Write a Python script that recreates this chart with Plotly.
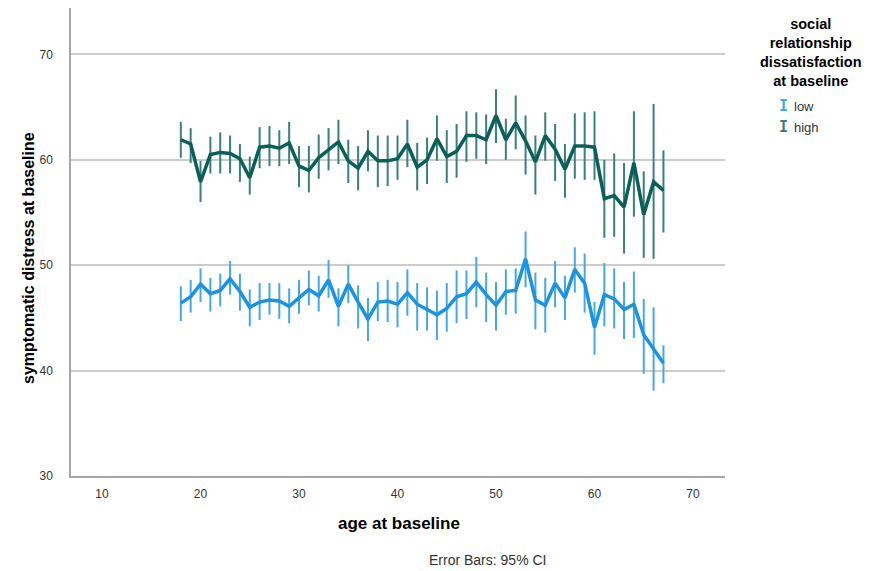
import plotly.graph_objects as go

# Age at baseline (years)
ages = list(range(18, 68))

# Mean symptomatic distress, low social relationship dissatisfaction
low_mean = [46.4, 47.0, 48.2, 47.3, 47.6, 48.7, 47.5, 46.0, 46.5, 46.7,
            46.6, 46.1, 46.9, 47.7, 47.1, 48.6, 46.1, 48.2, 46.5, 44.9,
            46.5, 46.6, 46.3, 47.4, 46.3, 45.8, 45.3, 45.9, 47.0, 47.3,
            48.4, 47.2, 46.2, 47.5, 47.6, 50.6, 46.7, 46.2, 48.3, 46.9,
            49.6, 48.3, 44.1, 47.2, 46.8, 45.8, 46.3, 43.4, 42.1, 40.7]
low_upper = [48.0, 48.6, 49.7, 48.8, 49.2, 50.4, 49.2, 47.7, 48.3, 48.3,
             48.3, 47.8, 48.6, 49.5, 49.0, 50.5, 47.8, 50.0, 48.1, 46.9,
             48.4, 48.6, 48.4, 49.6, 48.3, 47.9, 47.6, 48.3, 49.5, 49.5,
             50.8, 49.3, 48.4, 49.6, 49.7, 53.2, 49.3, 48.8, 50.4, 49.0,
             51.7, 51.1, 46.5, 50.2, 49.7, 48.4, 49.4, 46.8, 46.0, 42.4]
low_lower = [44.7, 45.5, 46.5, 45.6, 46.1, 47.2, 45.7, 44.2, 44.8, 45.3,
             44.9, 44.5, 45.4, 46.2, 45.6, 46.9, 44.2, 46.4, 44.0, 42.8,
             44.7, 44.6, 44.1, 45.2, 43.8, 43.8, 42.9, 43.7, 44.5, 44.9,
             46.0, 44.6, 43.8, 45.3, 45.4, 47.9, 43.9, 43.6, 46.0, 44.8,
             47.4, 45.5, 41.5, 44.2, 44.0, 43.0, 43.1, 39.7, 38.1, 38.8]

# Mean symptomatic distress, high social relationship dissatisfaction
high_mean = [61.9, 61.5, 57.9, 60.5, 60.7, 60.6, 60.1, 58.3, 61.2, 61.3,
             61.1, 61.6, 59.4, 59.0, 60.2, 61.0, 61.7, 59.9, 59.2, 60.8,
             59.9, 59.9, 60.1, 61.5, 59.3, 60.0, 62.0, 60.3, 60.8, 62.3,
             62.3, 61.9, 64.2, 61.9, 63.5, 61.8, 59.8, 62.3, 61.0, 59.1,
             61.3, 61.3, 61.2, 56.3, 56.6, 55.5, 59.7, 54.8, 57.9, 57.1]
high_upper = [63.6, 63.0, 59.9, 62.2, 62.6, 62.3, 61.5, 60.3, 63.1, 63.2,
              62.8, 63.6, 61.3, 61.3, 62.4, 63.0, 63.8, 61.9, 61.3, 62.8,
              62.3, 62.3, 62.3, 63.8, 61.6, 62.1, 64.2, 62.8, 63.4, 64.6,
              64.5, 64.3, 66.7, 63.9, 66.1, 64.2, 62.3, 64.5, 63.4, 61.5,
              64.4, 64.5, 64.6, 60.0, 60.6, 59.7, 64.6, 58.9, 65.3, 60.9]
high_lower = [60.2, 59.7, 56.0, 58.7, 58.7, 58.7, 57.9, 56.7, 59.2, 59.4,
              59.4, 59.6, 57.4, 56.9, 58.2, 59.0, 59.6, 57.8, 57.1, 58.9,
              57.4, 57.5, 58.1, 59.3, 57.1, 57.7, 59.9, 57.8, 58.3, 59.8,
              60.1, 59.6, 61.6, 60.0, 61.0, 58.6, 56.7, 59.9, 58.0, 56.4,
              58.2, 58.1, 58.1, 52.6, 52.7, 51.1, 54.6, 50.7, 50.6, 53.1]

group_labels = ["low", "high"]
line_colors = ["#1c93e0", "#0b5f5a"]
bar_colors = ["#45a7ea", "#3a7f7b"]
x_ticks = [10, 20, 30, 40, 50, 60, 70]
y_ticks = [30, 40, 50, 60, 70]

FONT = "Liberation Sans, Arial, sans-serif"
W, H = 871, 571
L, R, T, B = 71, 146, 8, 95
PW, PH = W - L - R, H - T - B


def px_x(x):
    return (x - L) / PW


def px_y(y):
    return 1 - (y - T) / PH


fig = go.Figure()
for label, mean, upper, lower, lc, bc in [
    (group_labels[0], low_mean, low_upper, low_lower, line_colors[0], bar_colors[0]),
    (group_labels[1], high_mean, high_upper, high_lower, line_colors[1], bar_colors[1]),
]:
    fig.add_trace(go.Scatter(
        x=ages, y=mean, mode="lines", name=label,
        line=dict(color=lc, width=3.5),
        error_y=dict(
            type="data", symmetric=False,
            array=[u - m for u, m in zip(upper, mean)],
            arrayminus=[m - l for m, l in zip(mean, lower)],
            color=bc, thickness=2, width=0,
        ),
        showlegend=False,
    ))

fig.update_layout(
    width=W, height=H,
    margin=dict(l=L, r=R, t=T, b=B),
    paper_bgcolor="white", plot_bgcolor="white",
    font=dict(family=FONT, color="#333333", size=12),
    xaxis=dict(
        range=[6.85, 73.25], tickvals=x_ticks, showgrid=False, zeroline=False,
        showline=True, linecolor="#a6a6a6", linewidth=1.5,
        ticks="outside", ticklen=6, tickcolor="rgba(0,0,0,0)",
        tickfont=dict(size=12, color="#333333"),
    ),
    yaxis=dict(
        range=[30, 74.4], tickvals=y_ticks, showgrid=True, gridcolor="#cccccc", gridwidth=1.5,
        zeroline=False, showline=True, linecolor="#a6a6a6", linewidth=1.5,
        ticks="outside", ticklen=14, tickcolor="rgba(0,0,0,0)",
        tickfont=dict(size=12, color="#333333"),
    ),
)

# Axis titles
fig.add_annotation(
    xref="paper", yref="paper", x=px_x(399), y=px_y(523), xanchor="center", yanchor="middle",
    text="<b>age at baseline</b>", showarrow=False,
    font=dict(family=FONT, size=17, color="#000000"),
)
fig.add_annotation(
    xref="paper", yref="paper", x=px_x(28), y=px_y(258), xanchor="center", yanchor="middle",
    text="<b>symptomatic distress at baseline</b>", showarrow=False, textangle=-90,
    font=dict(family=FONT, size=16, color="#000000"),
)

# Legend block drawn on the right
fig.add_annotation(
    xref="paper", yref="paper", x=px_x(811), y=px_y(14), xanchor="center", yanchor="top",
    text="<b>social<br>relationship<br>dissatisfaction<br>at baseline</b>",
    showarrow=False, align="center", font=dict(family=FONT, size=14.5, color="#000000"),
)
for i, (label, bc) in enumerate(zip(group_labels, bar_colors)):
    ypix = 106 + i * 21
    fig.add_annotation(
        xref="paper", yref="paper", x=px_x(783), y=px_y(ypix), xanchor="center", yanchor="middle",
        text="<b>I</b>", showarrow=False,
        font=dict(family="DejaVu Sans Mono, monospace", size=15, color=bc),
    )
    fig.add_annotation(
        xref="paper", yref="paper", x=px_x(792), y=px_y(ypix), xanchor="left", yanchor="middle",
        text=label, showarrow=False, font=dict(family=FONT, size=13, color="#333333"),
    )

fig.add_annotation(
    xref="paper", yref="paper", x=px_x(487), y=px_y(560),
    xanchor="center", yanchor="middle", text="Error Bars: 95% CI",
    showarrow=False, font=dict(family=FONT, size=14, color="#333333"),
)

fig.write_html("out.html")
